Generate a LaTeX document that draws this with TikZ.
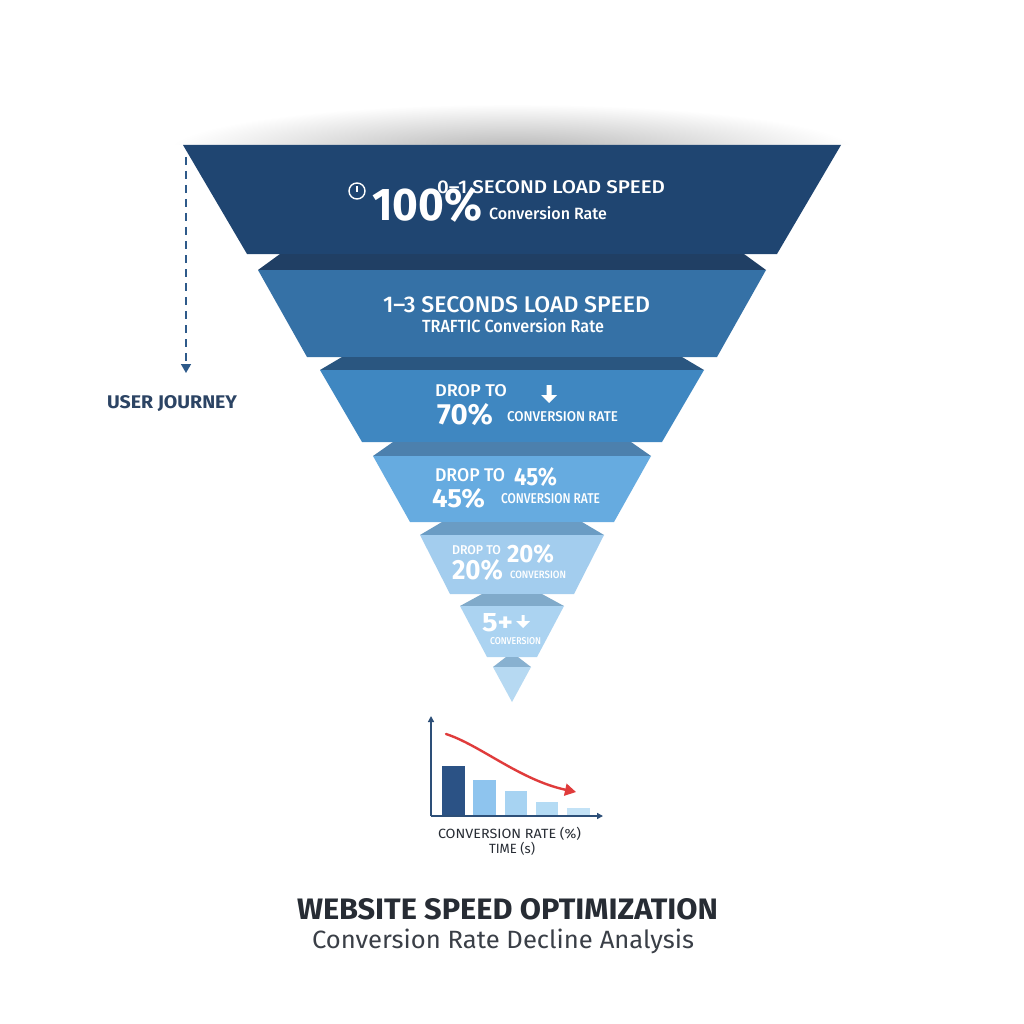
\documentclass[tikz,border=0pt]{standalone}
\usepackage{fontspec}
\setmainfont{Fira Sans}
\newfontfamily\med{Fira Sans Medium}
\usetikzlibrary{arrows.meta}
\definecolor{sA}{HTML}{1F4571}
\definecolor{bA}{HTML}{203F64}
\definecolor{sB}{HTML}{3571A6}
\definecolor{bB}{HTML}{2A5680}
\definecolor{sC}{HTML}{3F87C1}
\definecolor{bC}{HTML}{4C80AD}
\definecolor{sD}{HTML}{66ABE0}
\definecolor{bD}{HTML}{6A9CC4}
\definecolor{sE}{HTML}{A3CDEE}
\definecolor{bE}{HTML}{80AACA}
\definecolor{sF}{HTML}{ABD3F1}
\definecolor{bF}{HTML}{88B1D0}
\definecolor{sG}{HTML}{B6D9F2}
\definecolor{axisc}{HTML}{2D4F78}
\definecolor{barA}{HTML}{2B5285}
\definecolor{barB}{HTML}{8EC4EE}
\definecolor{barC}{HTML}{A7D3F2}
\definecolor{barD}{HTML}{B4DBF4}
\definecolor{barE}{HTML}{C3E2F6}
\definecolor{redc}{HTML}{E03B3B}
\definecolor{darktext}{HTML}{272C34}
\definecolor{subtext}{HTML}{3A3F47}
\definecolor{journey}{HTML}{2C4464}
\definecolor{dashc}{HTML}{2E5A8A}
\newcommand{\tx}[3]{\resizebox{#1pt}{#2pt}{#3}}
\newcommand{\segm}[5]{\fill[#5] (#2,#1) -- ({1024-#2},#1) -- ({1024-#4},#3) -- (#4,#3) -- cycle;}
\begin{document}
\begin{tikzpicture}[x=1pt,y=-1pt,
  txt/.style={inner sep=0pt, outer sep=0pt, text=white, anchor=base west},
  dark/.style={txt, text=darktext},
  axisline/.style={draw=axisc, line width=1.4pt, -{Triangle[width=6pt,length=6pt]}}]
\useasboundingbox[fill=white] (0,0) rectangle (1024,1024);
% shadow above the funnel
\begin{scope}
  \clip (120,60) rectangle (900,145);
  \shade[inner color=black!30, outer color=white] (512,152) ellipse (345 and 48);
\end{scope}
% funnel segments
\segm{145}{183}{254}{247}{sA}
\segm{254}{280}{270}{258}{bA}
\segm{270}{258}{357}{307}{sB}
\segm{357}{342}{370}{320}{bB}
\segm{370}{320}{442}{362}{sC}
\segm{442}{393}{456}{373}{bC}
\segm{456}{373}{522}{410}{sD}
\segm{522}{442}{535}{420}{bD}
\segm{535}{420}{594}{450}{sE}
\segm{594}{482}{606}{460}{bE}
\segm{606}{460}{657}{487}{sF}
\segm{657}{506}{667}{493}{bF}
\fill[sG] (493,667) -- (531,667) -- (512,702) -- cycle;
% segment 1
\draw[white, line width=1.4pt] (357,191) circle (8);
\draw[white, line width=1.4pt] (357,186) -- (357,192);
\node[txt] (t1a) at (437,194) {\tx{228}{13}{\med 0–1 SECOND LOAD SPEED}};
\node[txt] (t1b) at (372,221) {\tx{110}{33}{\bfseries 100\%}};
\node[txt] (t1c) at (489,219) {\tx{118}{13}{\med Conversion Rate}};
% segment 2
\node[txt] (t2a) at (383,312) {\tx{267}{16}{\med 1–3 SECONDS LOAD SPEED}};
\node[txt] (t2b) at (422,332) {\tx{182}{14}{\med TRAFTIC Conversion Rate}};
% segment 3
\node[txt] (t3a) at (435,396) {\tx{72}{12}{\med DROP TO}};
\node[txt] (t3b) at (437,424) {\tx{56}{21}{\bfseries 70\%}};
\node[txt] (t3c) at (507,421) {\tx{111}{10}{\med CONVERSION RATE}};
\fill[white] (546.5,385) -- (551.5,385) -- (551.5,395) -- (557,395) -- (549,403) -- (541,395) -- (546.5,395) -- cycle;
% segment 4
\node[txt] (t4a) at (435,481) {\tx{70}{13}{\med DROP TO}};
\node[txt] (t4b) at (514,485) {\tx{43}{18}{\bfseries 45\%}};
\node[txt] (t4c) at (432,507) {\tx{53}{19}{\bfseries 45\%}};
\node[txt] (t4d) at (501,503) {\tx{99}{10}{\med CONVERSION RATE}};
% segment 5
\node[txt] (t5a) at (452,554) {\tx{49}{9}{\med DROP TO}};
\node[txt] (t5b) at (507,562) {\tx{47}{18}{\bfseries 20\%}};
\node[txt] (t5c) at (452,579) {\tx{51}{20}{\bfseries 20\%}};
\node[txt] (t5d) at (510,578) {\tx{56}{7.5}{\med CONVERSION}};
% segment 6
\node[txt] (t6a) at (482,631) {\tx{31}{18}{\bfseries 5+}};
\fill[white] (521.5,615) -- (524.5,615) -- (524.5,621) -- (530,621) -- (523,628) -- (516,621) -- (521.5,621) -- cycle;
\node[txt] (t6b) at (490,644) {\tx{51}{7}{\med CONVERSION}};
% user journey
\coordinate (uj1) at (186,157);
\coordinate (uj2) at (186,373);
\draw[dashc, line width=1.5pt, dash pattern=on 8pt off 6pt, -{Triangle[width=10pt,length=9pt]}] (uj1) -- (uj2);
\node[txt, text=journey] (uj) at (107,408) {\tx{130}{13}{\bfseries USER JOURNEY}};
% chart
\coordinate (o) at (431,816);
\coordinate (ytop) at (431,716);
\coordinate (xend) at (603,816);
\fill[barA] (442,766) rectangle (465,816);
\fill[barB] (473,780) rectangle (496,816);
\fill[barC] (505,791) rectangle (527,816);
\fill[barD] (536,802) rectangle (558,816);
\fill[barE] (567,808) rectangle (590,816);
\draw[axisline] (o) -- (ytop);
\draw[axisline] (o) -- (xend);
\coordinate (r1) at (446,734);
\coordinate (r1c) at (480,745);
\coordinate (r2c) at (520,780);
\coordinate (r2) at (576,792);
\draw[redc, line width=2.4pt, line cap=round, -{Triangle[width=12pt,length=11pt]}] (r1) .. controls (r1c) and (r2c) .. (r2);
\node[dark] (cl1) at (438,838) {\tx{143}{11.3}{CONVERSION RATE (\%)}};
\node[dark] (cl2) at (489,853) {\tx{46}{11.3}{TIME (s)}};
% title
\node[dark] (title) at (297,919) {\tx{421}{21}{\bfseries WEBSITE SPEED OPTIMIZATION}};
\node[dark, text=subtext] (subtitle) at (312,948) {\tx{382}{19.5}{Conversion Rate Decline Analysis}};
\end{tikzpicture}
\end{document}
